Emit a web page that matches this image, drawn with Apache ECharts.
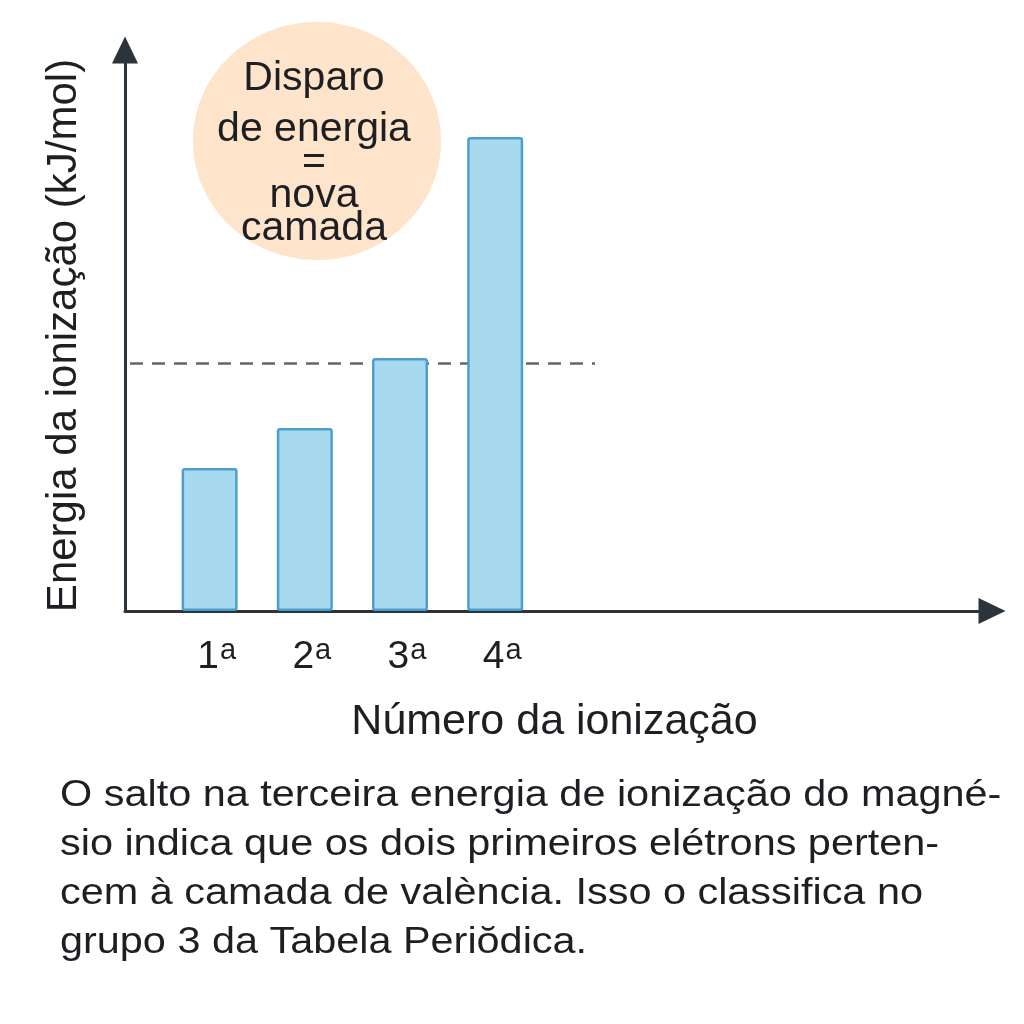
<!DOCTYPE html>
<html>
<head>
<meta charset="utf-8">
<script src="https://cdn.jsdelivr.net/npm/echarts@6/dist/echarts.min.js"></script>
<style>
  html, body { margin: 0; padding: 0; background: #fff; }
  #main { width: 1024px; height: 1024px; }
</style>
</head>
<body>
<div id="main"></div>
<script>
// ordem da ionização (a última fica vazia, só para o espaço da linha tracejada)
const categories = ['1ª', '2ª', '3ª', '4ª', ''];
// energia de ionização, escala relativa (o eixo não tem marcas)
const energy = [255, 326, 451, 845];
// nível da linha tracejada
const cutoff = 442;
const yMax = 1000;

const balloonLines = ['Disparo', 'de energia', '=', 'nova', 'camada'];
const noteLines = [
  'O salto na terceira energia de ionização do magné-',
  'sio indica que os dois primeiros elétrons perten-',
  'cem à camada de valència. Isso o classifica no',
  'grupo 3 da Tabela Periŏdica.'
];

const font = '"Liberation Sans", Arial, sans-serif';
const ink = '#1d1f22';
const axisColor = '#2c3339';

const chart = echarts.init(document.getElementById('main'));

// balão + texto explicativo
const graphics = [{
  type: 'ellipse',
  shape: { cx: 317, cy: 141, rx: 124, ry: 119 },
  style: { fill: '#fde4cb' },
  z: 0
}];
const balloonY = [79, 130, 163, 196, 229];
balloonLines.forEach(function (t, i) {
  graphics.push({
    type: 'text', x: 314, y: balloonY[i], z: 10,
    style: { text: t, fontFamily: font, fontSize: 41, fill: ink, align: 'center', verticalAlign: 'middle' }
  });
});
// o texto de baixo é mais largo que a fonte, estica um pouco
noteLines.forEach(function (t, i) {
  graphics.push({
    type: 'text', x: 60, y: 796 + i * 49, z: 10, scaleX: 1.15,
    style: { text: t, fontFamily: font, fontSize: 36, fill: ink, align: 'left', verticalAlign: 'middle' }
  });
});

const option = {
  backgroundColor: '#fff',
  animation: false,
  graphic: graphics,
  grid: [
    // grelha dos eixos (setas)
    { left: 125, right: 32, top: 50, bottom: 413 },
    // grelha das barras
    { left: 162, width: 476, top: 50, bottom: 413 }
  ],
  xAxis: [{
    gridIndex: 0,
    type: 'value', min: 0, max: 1,
    name: 'Número da ionização',
    nameLocation: 'middle',
    nameGap: 90,
    nameTextStyle: { fontFamily: font, fontSize: 43, color: ink, padding: [0, 8, 0, 0] },
    axisLine: { show: true, symbol: ['none', 'triangle'], symbolSize: [26, 27], lineStyle: { color: axisColor, width: 3 } },
    axisTick: { show: false },
    axisLabel: { show: false },
    splitLine: { show: false }
  }, {
    gridIndex: 1,
    type: 'category',
    data: categories,
    axisLine: { show: false },
    axisTick: { show: false },
    axisLabel: {
      margin: 25,
      formatter: function (v) {
        return v ? '{n|' + v.replace('ª', '') + '}{s|a}' : '';
      },
      rich: {
        n: { fontFamily: font, fontSize: 39, color: ink, lineHeight: 42, padding: [0, 0, 0, 14] },
        s: { fontFamily: font, fontSize: 29, color: ink, lineHeight: 24, verticalAlign: 'top', padding: [0, 0, 0, 1] }
      }
    }
  }],
  yAxis: [{
    gridIndex: 0,
    type: 'value', min: 0, max: yMax,
    name: 'Energia da ionização (kJ/mol)',
    nameLocation: 'middle',
    nameGap: 40,
    nameTextStyle: { fontFamily: font, fontSize: 42, color: ink, padding: [0, 10, 0, 0] },
    axisLine: { show: true, symbol: ['none', 'triangle'], symbolSize: [26, 27], lineStyle: { color: axisColor, width: 3 } },
    axisTick: { show: false },
    axisLabel: { show: false },
    splitLine: { show: false }
  }, {
    gridIndex: 1,
    type: 'value', min: 0, max: yMax,
    show: false
  }],
  series: [{
    type: 'bar',
    xAxisIndex: 1,
    yAxisIndex: 1,
    data: energy,
    barWidth: 56,
    itemStyle: {
      color: '#a8daef',
      borderColor: '#4a9fcc',
      borderWidth: 2.5,
      borderRadius: 2
    },
    z: 3,
    markLine: {
      silent: true,
      z: 1,
      symbol: ['none', 'none'],
      label: { show: false },
      lineStyle: { color: '#5e676f', width: 2.5, type: [13, 9] },
      data: [[{ x: 130, yAxis: cutoff }, { x: 595, yAxis: cutoff }]]
    }
  }]
};

chart.setOption(option);
</script>
</body>
</html>
